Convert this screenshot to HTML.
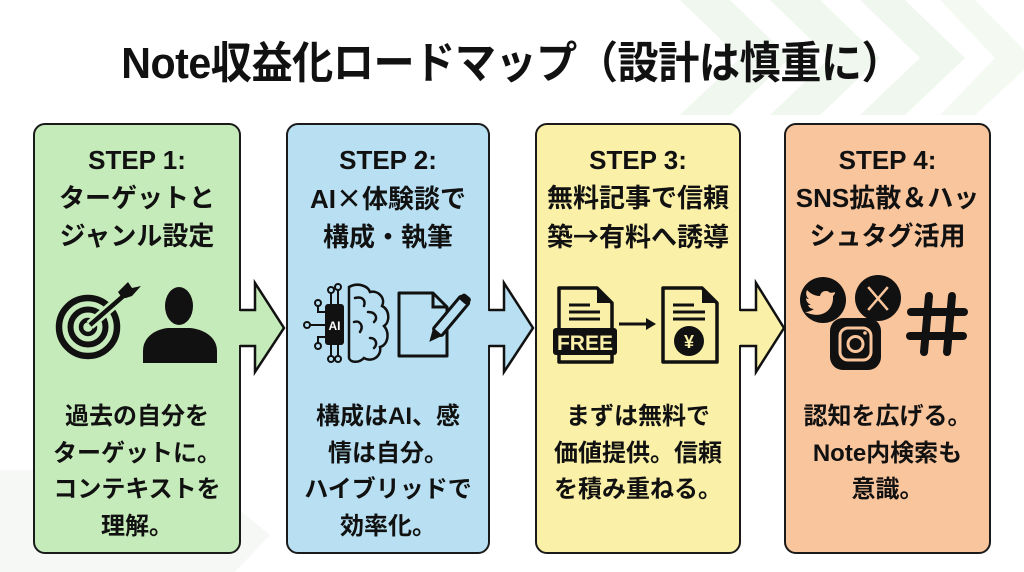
<!DOCTYPE html>
<html><head><meta charset="utf-8">
<style>
html,body{margin:0;padding:0;}
body{width:1024px;height:572px;position:relative;overflow:hidden;background:#fff;font-family:"Liberation Sans","Noto Sans CJK JP",sans-serif;color:#111;}
.title{position:absolute;left:0;width:1024px;top:36px;text-align:center;font-size:44px;font-weight:bold;line-height:56px;letter-spacing:-0.5px;white-space:nowrap;transform:scaleX(0.935);transform-origin:508px 0;}
.box{position:absolute;top:123px;height:431px;box-sizing:border-box;border:2.5px solid #1a1a1a;border-radius:12px;}
.t{position:absolute;left:0;right:0;text-align:center;font-weight:bold;white-space:nowrap;}
.st{top:16px;font-size:26px;line-height:38px;}
.ds{top:274px;font-size:24px;line-height:36.5px;}
.j{font-family:"Noto Sans CJK JP",sans-serif;}
svg{position:absolute;left:0;top:0;}
</style></head><body>
<svg width="1024" height="572" style="z-index:0">
  <g fill="#f0f7ee">
    <polygon points="680,0 730,0 790,58 730,115 680,115 740,58"/>
    <polygon points="770,0 820,0 880,58 820,115 770,115 830,58"/>
    <polygon points="860,0 905,0 965,58 905,115 860,115 920,58"/>
    <polygon points="940,0 975,0 1024,50 1024,70 975,115 940,115 995,58" fill="#f4f9f2"/>
  </g>
  <polygon points="0,470 190,470 270,535 235,572 0,572" fill="#f5f8f5"/>
</svg>

<div class="title">Note収益化ロードマップ（設計は慎重に）</div>

<div class="box" style="left:33px;width:208px;background:#c6ebba;">
  <div class="t st">STEP 1:<br>ターゲットと<br>ジャンル設定</div>
  <div class="t ds">過去の自分を<br>ターゲットに。<br>コンテキストを<br>理解。</div>
</div>
<div class="box" style="left:286px;width:204px;background:#b8e0f2;">
  <div class="t st">STEP 2:<br>AI<span class="j">×</span>体験談で<br>構成・執筆</div>
  <div class="t ds">構成はAI、感<br>情は自分。<br>ハイブリッドで<br>効率化。</div>
</div>
<div class="box" style="left:535px;width:206px;background:#faf0a8;">
  <div class="t st">STEP 3:<br>無料記事で信頼<br>築<span class="j">→</span>有料へ誘導</div>
  <div class="t ds">まずは無料で<br>価値提供。信頼<br>を積み重ねる。</div>
</div>
<div class="box" style="left:784px;width:207px;background:#f9c59c;">
  <div class="t st">STEP 4:<br>SNS拡散＆ハッ<br>シュタグ活用</div>
  <div class="t ds">認知を広げる。<br>Note内検索も<br>意識。</div>
</div>

<svg width="1024" height="572" style="z-index:2">
  <!-- arrows -->
  <g stroke="#111" stroke-width="2.5" stroke-linejoin="miter">
    <polygon points="237,311 255,311 255,283 284,328 255,372 255,345 237,345" fill="#c6ebba" stroke="none"/>
    <path d="M240 310 H255 V283 L284 328 L255 372 V346 H240" fill="none"/>
    <polygon points="486,311 504,311 504,283 533,328 504,372 504,345 486,345" fill="#b8e0f2" stroke="none"/>
    <path d="M489 310 H504 V283 L533 328 L504 372 V346 H489" fill="none"/>
    <polygon points="737,311 756,311 756,283 784,328 756,372 756,345 737,345" fill="#faf0a8" stroke="none"/>
    <path d="M740 310 H756 V283 L784 328 L756 372 V346 H740" fill="none"/>
  </g>

  <!-- Box1 icons: target -->
  <g fill="none" stroke="#111">
    <circle cx="88" cy="327" r="29" stroke-width="6.5"/>
    <circle cx="88" cy="327" r="17.5" stroke-width="6"/>
    <circle cx="88" cy="327" r="7" stroke-width="4.5"/>
    <line x1="90" y1="325" x2="128" y2="292" stroke="#c6ebba" stroke-width="10"/>
    <line x1="90" y1="325" x2="128" y2="292" stroke-width="4.5"/>
  </g>
  <polygon points="118,292 128,282 132,288 141,286 132,296 126,298 122,298" fill="#111"/>
  <!-- person -->
  <ellipse cx="179" cy="306" rx="14" ry="19" fill="#111"/>
  <path d="M143 363 V351 C143 336 157 329 168 328 L190 328 C202 329 217 336 217 351 V363 Z" fill="#111"/>

  <!-- Box2: AI brain -->
  <g stroke="#111" stroke-width="2" fill="none">
    <line x1="331" y1="305" x2="331" y2="293"/><circle cx="331" cy="290" r="3"/>
    <line x1="338" y1="305" x2="338" y2="290"/><circle cx="338" cy="287" r="3"/>
    <path d="M326 312 H318 V306"/><circle cx="318" cy="303" r="3"/>
    <line x1="326" y1="325" x2="310" y2="325"/><circle cx="307" cy="325" r="3"/>
    <path d="M326 337 H318 V343"/><circle cx="318" cy="346" r="3"/>
    <line x1="331" y1="345" x2="331" y2="356"/><circle cx="331" cy="359" r="3"/>
    <line x1="338" y1="345" x2="338" y2="356"/><circle cx="338" cy="359" r="3"/>
  </g>
  <rect x="325" y="304" width="19" height="41" rx="3" fill="#111"/>
  <text x="334.5" y="330" font-family="Liberation Sans,sans-serif" font-weight="bold" font-size="12" fill="#fff" text-anchor="middle">AI</text>
  <g stroke="#111" stroke-width="2.5" fill="none" stroke-linecap="round">
    <path d="M349 287 C358 282 368 286 370 292 C378 290 386 298 382 306 C390 310 390 322 384 326 C390 333 388 345 380 347 C382 356 372 363 364 358 C358 364 350 362 349 358 Z"/>
    <path d="M355 298 C362 296 366 300 364 306"/>
    <path d="M368 312 C376 312 378 318 374 322"/>
    <path d="M354 322 C360 320 364 326 360 332"/>
    <path d="M370 338 C376 338 378 344 374 348"/>
  </g>
  <!-- doc + pen -->
  <path d="M399 293 H433 L447 307 V356 H399 Z" fill="none" stroke="#111" stroke-width="3" stroke-linejoin="round"/>
  <path d="M433 293 V307 H447" fill="none" stroke="#111" stroke-width="3"/>
  <g transform="translate(446,322) rotate(40)">
    <rect x="-5.5" y="-30" width="11" height="44" rx="2" fill="#b8e0f2" stroke="#111" stroke-width="3"/>
    <rect x="-5.5" y="-34" width="11" height="8" rx="3" fill="#111"/>
    <polygon points="-5.5,14 5.5,14 0,26" fill="#111"/>
  </g>

  <!-- Box3: FREE doc -->
  <g stroke="#111" stroke-width="3.5" fill="none" stroke-linejoin="round">
    <path d="M559 288 H597 L612 303 V362 H559 Z"/>
    <path d="M663 288 H702 L717 303 V362 H663 Z"/>
  </g>
  <polygon points="597,288 612,303 597,303" fill="#111"/>
  <polygon points="702,288 717,303 702,303" fill="#111"/>
  <g stroke="#111" stroke-width="3">
    <line x1="569" y1="305" x2="590" y2="305"/><line x1="569" y1="312" x2="600" y2="312"/><line x1="569" y1="319" x2="600" y2="319"/>
    <line x1="673" y1="305" x2="694" y2="305"/><line x1="673" y1="312" x2="705" y2="312"/><line x1="673" y1="319" x2="705" y2="319"/>
    <line x1="619" y1="324" x2="648" y2="324"/>
  </g>
  <polygon points="646,318 656,324 646,330" fill="#111"/>
  <rect x="553" y="328" width="64" height="27" rx="3" fill="#111"/>
  <text x="585" y="350" font-family="Liberation Sans,sans-serif" font-weight="bold" font-size="21" fill="#faf0a8" text-anchor="middle">FREE</text>
  <circle cx="689" cy="341" r="15" fill="#111"/>
  <text x="689" y="348" font-family="Liberation Sans,sans-serif" font-weight="bold" font-size="18" fill="#faf0a8" text-anchor="middle">¥</text>

  <!-- Box4: SNS -->
  <circle cx="823" cy="300" r="23" fill="#111"/>
  <path d="M835 292 C832 293 830 293 829 292 C826 290 821 291 820 296 C814 296 810 293 807 290 C805 294 807 298 809 299 C808 299 807 299 806 298 C806 302 809 304 811 305 C810 305 809 305 808 305 C809 308 812 309 814 309 C811 311 808 312 805 312 C822 320 834 310 833 296 C834 295 835 294 835 292 Z" fill="#f9c59c"/>
  <circle cx="878" cy="298" r="23" fill="#111"/>
  <g stroke="#f9c59c" stroke-width="2.5" stroke-linecap="square">
    <line x1="869" y1="288" x2="887" y2="309"/>
    <line x1="887" y1="288" x2="869" y2="309"/>
  </g>
  <rect x="830" y="318" width="51" height="52" rx="13" fill="#111"/>
  <rect x="840" y="328" width="31" height="32" rx="8" fill="none" stroke="#f9c59c" stroke-width="3"/>
  <circle cx="855.5" cy="344" r="7.5" fill="none" stroke="#f9c59c" stroke-width="3"/>
  <circle cx="865" cy="333" r="1.8" fill="#f9c59c"/>
  <g stroke="#111" stroke-width="8" stroke-linecap="round">
    <line x1="929" y1="296" x2="924" y2="352"/>
    <line x1="952" y1="296" x2="947" y2="352"/>
    <line x1="911" y1="312" x2="964" y2="312"/>
    <line x1="910" y1="336" x2="963" y2="336"/>
  </g>
</svg>
</body></html>
